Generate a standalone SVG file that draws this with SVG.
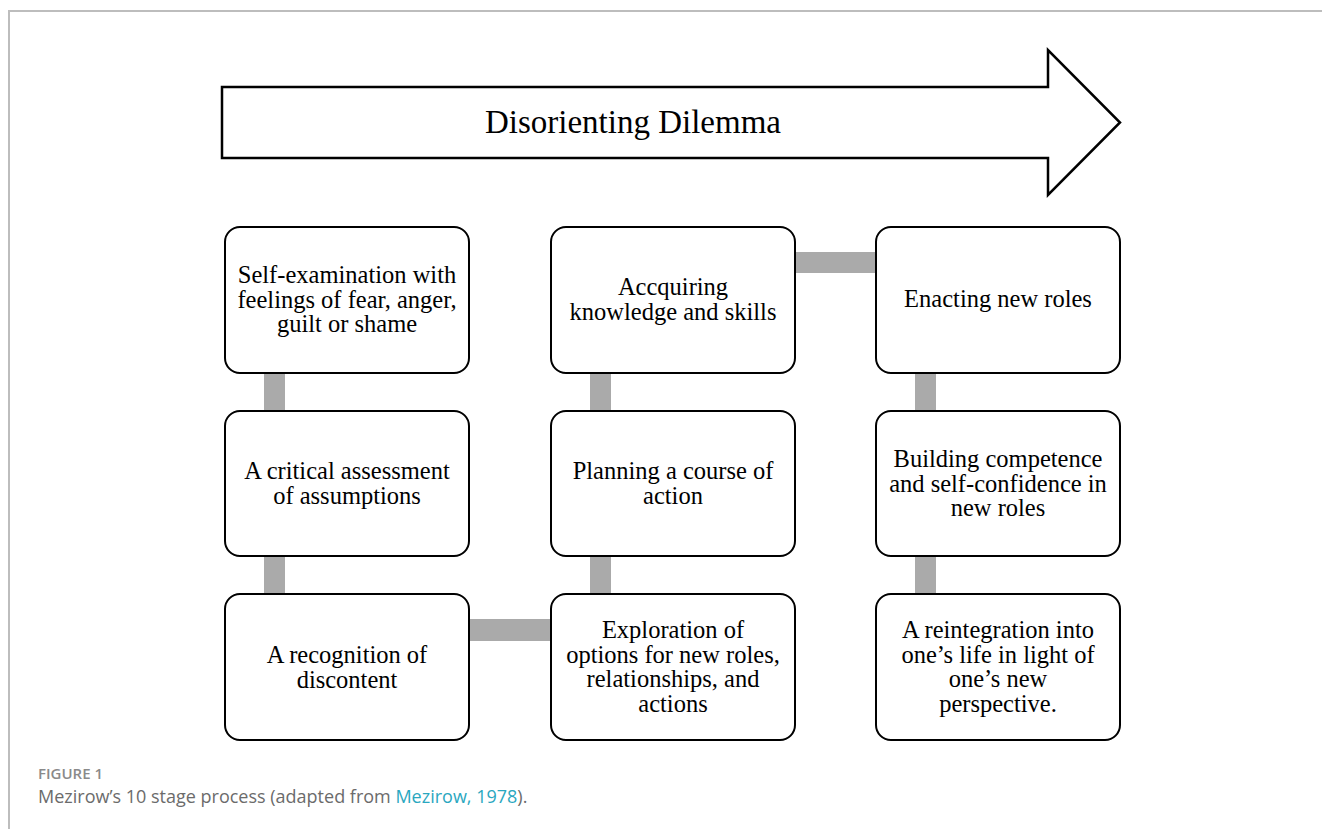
<svg xmlns="http://www.w3.org/2000/svg" width="1322" height="829" viewBox="0 0 1322 829">
  <style>
    .frame { fill: none; stroke: #bdbdbd; stroke-width: 2; }
    .box { fill: #ffffff; stroke: #000000; stroke-width: 2; }
    .link { fill: #aaaaaa; }
    .label { font-family: "Liberation Serif", "Times New Roman", serif; font-size: 24.5px; fill: #000000; text-anchor: middle; }
    .title { font-family: "Liberation Serif", "Times New Roman", serif; font-size: 33px; fill: #000000; text-anchor: middle; }
    .fig { font-family: "Open Sans", "Liberation Sans", sans-serif; font-size: 15px; font-weight: 600; fill: #8a8a8a; }
    .caption { font-family: "Open Sans", "Liberation Sans", sans-serif; font-size: 18px; fill: #6b6b6b; }
    .ref { fill: #2aa7c0; }
  </style>
  <rect width="1322" height="829" fill="#ffffff"/>

  <!-- page frame -->
  <path class="frame" d="M9 829 V11 H1322"/>

  <!-- banner arrow -->
  <g id="dilemma">
    <path d="M222 87 H1048 V50 L1120 122.5 L1048 195 V158 H222 Z" fill="#ffffff" stroke="#000000" stroke-width="2.5" stroke-linejoin="miter"/>
    <text class="title" x="633" y="133">Disorienting Dilemma</text>
  </g>

  <!-- connectors -->
  <g id="connectors">
    <rect class="link" x="264" y="372" width="21" height="40"/>
    <rect class="link" x="264" y="555" width="21" height="40"/>
    <rect class="link" x="468" y="619" width="84" height="22"/>
    <rect class="link" x="590" y="555" width="21" height="40"/>
    <rect class="link" x="590" y="372" width="21" height="40"/>
    <rect class="link" x="794" y="252" width="83" height="21"/>
    <rect class="link" x="915" y="372" width="21" height="40"/>
    <rect class="link" x="915" y="555" width="21" height="40"/>
  </g>

  <!-- column 1 -->
  <g id="self-examination">
    <rect class="box" x="225" y="227" width="244" height="146" rx="15"/>
    <text class="label" x="347" y="283">Self-examination with</text>
    <text class="label" x="347" y="307.5">feelings of fear, anger,</text>
    <text class="label" x="347" y="332">guilt or shame</text>
  </g>
  <g id="critical-assessment">
    <rect class="box" x="225" y="411" width="244" height="145" rx="15"/>
    <text class="label" x="347" y="479">A critical assessment</text>
    <text class="label" x="347" y="503.5">of assumptions</text>
  </g>
  <g id="recognition">
    <rect class="box" x="225" y="594" width="244" height="146" rx="15"/>
    <text class="label" x="347" y="663">A recognition of</text>
    <text class="label" x="347" y="687.5">discontent</text>
  </g>

  <!-- column 2 -->
  <g id="acquiring">
    <rect class="box" x="551" y="227" width="244" height="146" rx="15"/>
    <text class="label" x="673" y="295">Accquiring</text>
    <text class="label" x="673" y="319.5">knowledge and skills</text>
  </g>
  <g id="planning">
    <rect class="box" x="551" y="411" width="244" height="145" rx="15"/>
    <text class="label" x="673" y="479">Planning a course of</text>
    <text class="label" x="673" y="503.5">action</text>
  </g>
  <g id="exploration">
    <rect class="box" x="551" y="594" width="244" height="146" rx="15"/>
    <text class="label" x="673" y="638">Exploration of</text>
    <text class="label" x="673" y="662.5">options for new roles,</text>
    <text class="label" x="673" y="687">relationships, and</text>
    <text class="label" x="673" y="711.5">actions</text>
  </g>

  <!-- column 3 -->
  <g id="enacting">
    <rect class="box" x="876" y="227" width="244" height="146" rx="15"/>
    <text class="label" x="998" y="307">Enacting new roles</text>
  </g>
  <g id="building">
    <rect class="box" x="876" y="411" width="244" height="145" rx="15"/>
    <text class="label" x="998" y="467">Building competence</text>
    <text class="label" x="998" y="491.5">and self-confidence in</text>
    <text class="label" x="998" y="516">new roles</text>
  </g>
  <g id="reintegration">
    <rect class="box" x="876" y="594" width="244" height="146" rx="15"/>
    <text class="label" x="998" y="638">A reintegration into</text>
    <text class="label" x="998" y="662.5">one’s life in light of</text>
    <text class="label" x="998" y="687">one’s new</text>
    <text class="label" x="998" y="711.5">perspective.</text>
  </g>

  <!-- caption -->
  <text class="fig" x="38" y="779">FIGURE 1</text>
  <text class="caption" x="38" y="803">Mezirow’s 10 stage process (adapted from <tspan class="ref">Mezirow, 1978</tspan>).</text>
</svg>
